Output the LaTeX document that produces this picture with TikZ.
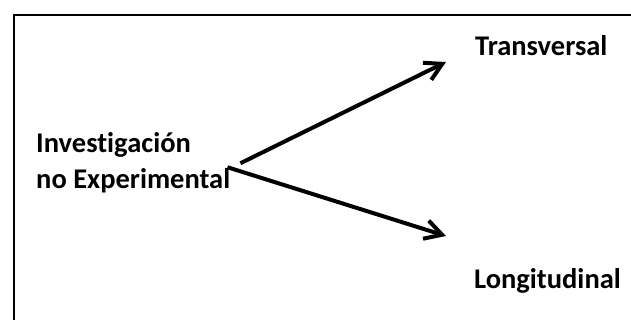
\documentclass[tikz,border=0pt]{standalone}
\usepackage{fontspec}
\setmainfont{Carlito}[Ligatures=NoCommon]
\usetikzlibrary{arrows.meta}

\tikzset{
  lbl/.style={font=\bfseries\fontsize{28.5}{36}\selectfont, inner sep=0pt, align=left},
  arr/.style={line width=4pt, -{Straight Barb[length=17pt,width=19pt]}},
}

\begin{document}
\begin{tikzpicture}[x=1pt,y=-1pt]
    \useasboundingbox (0,0) rectangle (631,320);
    \draw [line width=2pt] (14,15) rectangle (650,340);
    \node [lbl, anchor=base west] (inv) at (36,189) {Investigación\\no Experimental};
    \node [lbl, anchor=base west] (trans) at (475,56) {Transversal};
    \node [lbl, anchor=base west] (longi) at (474,288) {Longitudinal};
    \coordinate (t1) at (446,62);
    \coordinate (t2) at (446,236);
    \draw [arr] ([shift={(10,0)}]inv.east) -- (t1);
    \draw [arr] ([shift={(-3,4)}]inv.east) -- (t2);
\end{tikzpicture}
\end{document}
